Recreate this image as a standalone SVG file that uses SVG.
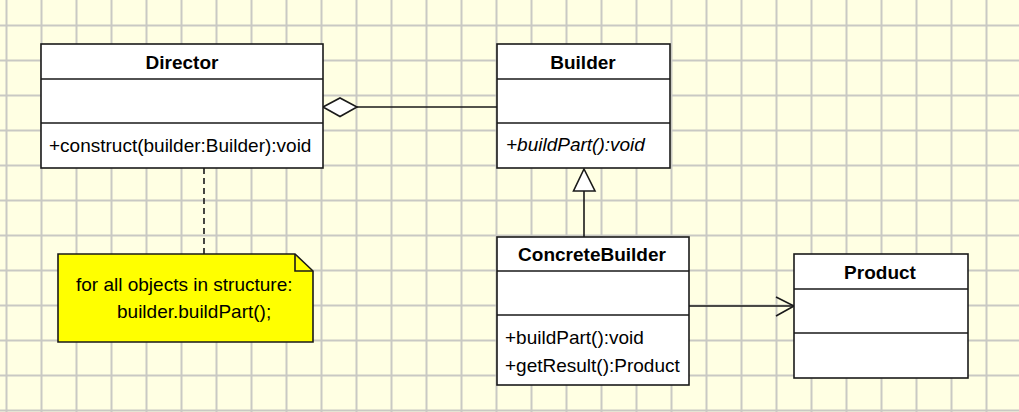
<svg xmlns="http://www.w3.org/2000/svg" width="1019" height="412" viewBox="0 0 1019 412">
<style>
.box{fill:#ffffff;stroke:#1a1a1a;stroke-width:1.6}
.div{stroke:#1a1a1a;stroke-width:1.6;fill:none}
.t{font-family:"Liberation Sans",Arial,sans-serif;font-size:19px;fill:#000}
.b{font-weight:bold;text-anchor:middle}
.i{font-style:italic}
.ln{stroke:#1a1a1a;stroke-width:1.6;fill:none}
</style>
<defs>
<pattern id="grid" patternUnits="userSpaceOnUse" x="-11" y="8" width="35" height="35">
<rect width="35" height="35" fill="#ffffe3"/>
<path d="M17.5 0V35M0 17.5H35" stroke="#c9c9c4" stroke-width="2"/>
</pattern>
</defs>
<rect width="1019" height="412" fill="url(#grid)"/>

<g id="connectors">
<path class="ln" d="M357 107H497"/>
<polygon points="323,107 340,98 357,107 340,116.5" fill="#ffffff" stroke="#1a1a1a" stroke-width="1.6"/>
<path class="ln" d="M584 191V237"/>
<polygon points="584,169 595,191 573.5,191" fill="#ffffff" stroke="#1a1a1a" stroke-width="1.6"/>
<path class="ln" d="M689 306H793"/>
<path class="ln" d="M776 297L794 306L776 316"/>
<path d="M204 168V254" stroke="#1a1a1a" stroke-width="1.6" stroke-dasharray="6,4" fill="none"/>
</g>

<g id="director">
<rect class="box" x="41" y="44" width="282" height="124"/>
<path class="div" d="M41 79H323M41 123H323"/>
<text class="t b" x="182" y="69">Director</text>
<text class="t" x="49" y="152">+construct(builder:Builder):void</text>
</g>

<g id="builder">
<rect class="box" x="497" y="44" width="173" height="124"/>
<path class="div" d="M497 79H670M497 123H670"/>
<text class="t b" x="583" y="69">Builder</text>
<text class="t i" x="506" y="151">+buildPart():void</text>
</g>

<g id="concretebuilder">
<rect class="box" x="497" y="237" width="192" height="148"/>
<path class="div" d="M497 271H689M497 315H689"/>
<text class="t b" x="592" y="261">ConcreteBuilder</text>
<text class="t" x="505" y="344">+buildPart():void</text>
<text class="t" x="505" y="372">+getResult():Product</text>
</g>

<g id="product">
<rect class="box" x="794" y="254" width="174" height="124"/>
<path class="div" d="M794 289H968M794 333H968"/>
<text class="t b" x="880" y="279">Product</text>
</g>

<g id="note">
<polygon points="58,254 295,254 313,271 313,342 58,342" fill="#ffff00" stroke="#1a1a1a" stroke-width="1.6"/>
<polyline points="295,254 295,271 313,271" fill="none" stroke="#1a1a1a" stroke-width="1.6"/>
<text class="t" x="76" y="291">for all objects in structure:</text>
<text class="t" x="117" y="318">builder.buildPart();</text>
</g>
</svg>
